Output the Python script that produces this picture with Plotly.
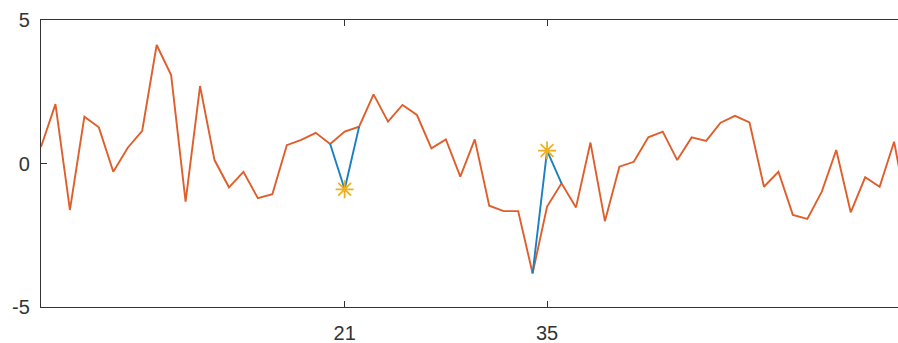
import plotly.graph_objects as go

# Cleaned signal (orange), sample index 0..60
cleaned = [0.58, 2.07, -1.62, 1.63, 1.26, -0.29, 0.55, 1.14, 4.13, 3.08,
           -1.33, 2.70, 0.12, -0.83, -0.29, -1.21, -1.07, 0.64, 0.82, 1.07,
           0.68, 1.11, 1.28, 2.41, 1.46, 2.04, 1.69, 0.53, 0.84, -0.46,
           0.84, -1.47, -1.66, -1.66, -3.83, -1.50, -0.69, -1.53, 0.73, -2.01,
           -0.11, 0.06, 0.91, 1.11, 0.12, 0.91, 0.79, 1.42, 1.66, 1.43,
           -0.81, -0.29, -1.79, -1.93, -0.98, 0.47, -1.70, -0.48, -0.81, 0.76,
           -1.90]
outlier_idx = [21, 35]
outlier_val = [-0.90, 0.45]
x_ticks = [21, 35]
y_ticks = [-5, 0, 5]

x = list(range(len(cleaned)))

# Raw signal segments that differ from the cleaned one (around each outlier)
bx, by = [], []
for i, v in zip(outlier_idx, outlier_val):
    bx += [i - 1, i, i + 1, None]
    by += [cleaned[i - 1], v, cleaned[i + 1], None]

fig = go.Figure()
fig.add_trace(go.Scatter(x=x, y=cleaned, mode="lines",
                         line=dict(color="#DE5F2B", width=1.9), showlegend=False))
fig.add_trace(go.Scatter(x=bx, y=by, mode="lines", connectgaps=False,
                         line=dict(color="#1A7FC4", width=1.9), showlegend=False))
fig.add_trace(go.Scatter(x=outlier_idx, y=outlier_val, mode="markers",
                         marker=dict(symbol="asterisk-open", size=15, color="#EDB120",
                                     line=dict(color="#EDB120", width=1.8)),
                         showlegend=False))

axis_col = "#333333"
fig.update_layout(
    width=898, height=343,
    margin=dict(l=41, r=0, t=20, b=36),
    paper_bgcolor="white", plot_bgcolor="white",
    font=dict(family="Liberation Sans, Arial, sans-serif", size=20, color=axis_col),
    xaxis=dict(range=[0, 59.27], tickvals=x_ticks, ticktext=[str(t) for t in x_ticks],
               ticks="inside", ticklen=6, tickcolor=axis_col, tickwidth=1.3,
               showline=True, linecolor=axis_col, linewidth=1.3, mirror="ticks",
               showgrid=False, zeroline=False, ticklabelstandoff=8, automargin=False),
    yaxis=dict(range=[-5, 5], tickvals=y_ticks, ticktext=["-5", "0", "5"],
               ticks="inside", ticklen=6, tickcolor=axis_col, tickwidth=1.3,
               showline=True, linecolor=axis_col, linewidth=1.3, showgrid=False,
               zeroline=False, ticklabelstandoff=6, automargin=False),
)
fig.write_html("out.html", config={"displayModeBar": False},
               post_script="document.body.style.margin='0';"
                           "document.body.style.overflow='hidden';")
